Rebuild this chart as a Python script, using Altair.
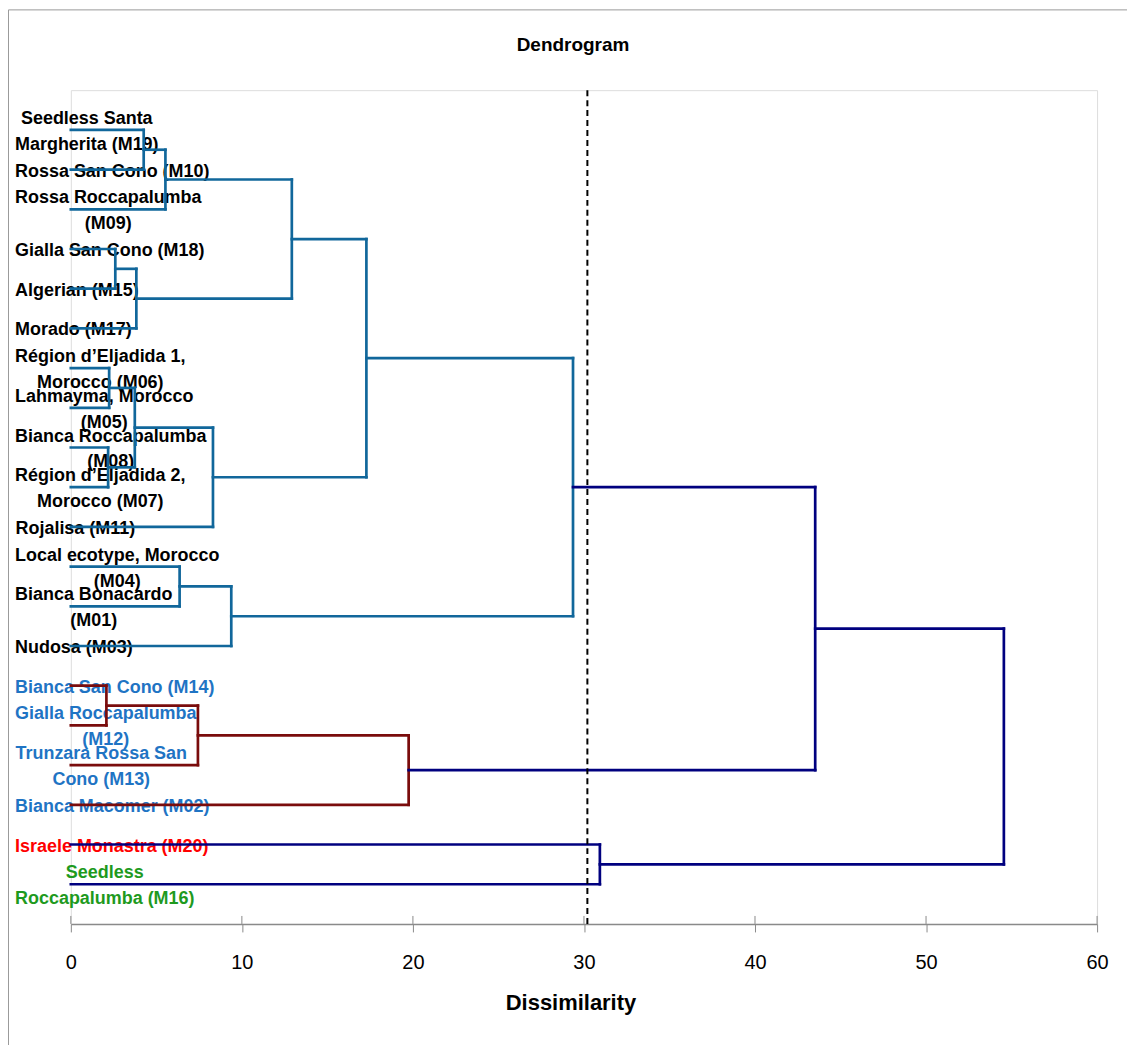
import altair as alt
import pandas as pd

# ---------------- data ----------------
leaf_labels = [
    "Seedless Santa\nMargherita (M19)",
    "Rossa San Cono (M10)",
    "Rossa Roccapalumba\n(M09)",
    "Gialla San Cono (M18)",
    "Algerian (M15)",
    "Morado (M17)",
    "Région d’Eljadida 1,\nMorocco (M06)",
    "Lahmayma, Morocco\n(M05)",
    "Bianca Roccapalumba\n(M08)",
    "Région d’Eljadida 2,\nMorocco (M07)",
    "Rojalisa (M11)",
    "Local ecotype, Morocco\n(M04)",
    "Bianca Bonacardo\n(M01)",
    "Nudosa (M03)",
    "Bianca San Cono (M14)",
    "Gialla Roccapalumba\n(M12)",
    "Trunzara Rossa San\nCono (M13)",
    "Bianca Macomer (M02)",
    "Israele Monastra (M20)",
    "Seedless\nRoccapalumba (M16)",
]
leaf_label_colors = ["#000000"] * 14 + ["#1F74C4"] * 4 + ["#FF0000", "#1E9A1E"]
leaf_group = ["A"] * 14 + ["B"] * 4 + ["C"] * 2

# merges: child a, child b, dissimilarity
merge_a = ["L1", "N1", "L4", "N3", "N2", "L7", "L9", "N6", "N8", "N5",
           "L12", "N11", "N10", "L15", "N14", "N15", "N13", "L19", "N17"]
merge_b = ["L2", "L3", "L5", "L6", "N4", "L8", "L10", "N7", "L11", "N9",
           "L13", "L14", "N12", "L16", "L17", "L18", "N16", "L20", "N18"]
merge_h = [4.26, 5.53, 2.60, 3.83, 12.92, 2.24, 2.18, 3.74, 8.31, 17.28,
           6.36, 9.38, 29.36, 2.08, 7.43, 19.75, 43.52, 30.93, 54.55]

cut_level = 30.2
x_ticks = [0, 10, 20, 30, 40, 50, 60]
chart_title = "Dendrogram"
x_title = "Dissimilarity"

# ---------------- styling ----------------
W, H = 1029, 836
X_MAX = 60
N_LEAF = len(leaf_labels)
PX_PER_UNIT = W / X_MAX
PX_PER_LEAF = H / (N_LEAF + 1)
group_colors = {"A": "#11679B", "B": "#7A0C0C", "C": "#00007F"}
above_cut_color = "#00007F"
FONT = "Liberation Sans"
LABEL_SIZE = 18
LINE_H = 26
LABEL_NUDGE_PX = 2

# ---------------- dendrogram segments ----------------
node_x, node_y, node_first = {}, {}, {}
for i in range(N_LEAF):
    node_x[f"L{i+1}"] = 0.0
    node_y[f"L{i+1}"] = float(i + 1)
    node_first[f"L{i+1}"] = i

segs = []
for k, (a, b, h) in enumerate(zip(merge_a, merge_b, merge_h)):
    nid = f"N{k+1}"
    col = above_cut_color if h > cut_level else group_colors[leaf_group[node_first[a]]]
    ya, yb = node_y[a], node_y[b]
    segs.append(dict(x=node_x[a], x2=h, y=ya, y2=ya, c=col, o=k))
    segs.append(dict(x=node_x[b], x2=h, y=yb, y2=yb, c=col, o=k))
    segs.append(dict(x=h, x2=h, y=ya, y2=yb, c=col, o=k))
    node_x[nid] = h
    node_y[nid] = (ya + yb) / 2
    node_first[nid] = node_first[a]
seg_df = pd.DataFrame(segs)

# ---------------- labels (centred blocks starting 56px left of axis) ----------------
AW = {' ': 278, ',': 278, '(': 333, ')': 333, '’': 278, "'": 238, '.': 278,
      'A': 722, 'B': 722, 'C': 722, 'D': 722, 'E': 667, 'F': 611, 'G': 778, 'H': 722,
      'I': 278, 'J': 556, 'K': 722, 'L': 611, 'M': 833, 'N': 722, 'O': 778, 'P': 667,
      'Q': 778, 'R': 722, 'S': 667, 'T': 611, 'U': 722, 'V': 667, 'W': 944, 'X': 667,
      'Y': 667, 'Z': 611, 'a': 556, 'b': 611, 'c': 556, 'd': 611, 'e': 556, 'f': 333,
      'g': 611, 'h': 611, 'i': 278, 'j': 278, 'k': 556, 'l': 278, 'm': 889, 'n': 611,
      'o': 611, 'p': 611, 'q': 611, 'r': 389, 's': 556, 't': 333, 'u': 611, 'v': 556,
      'w': 778, 'x': 556, 'y': 556, 'z': 500, 'é': 556}


def text_w(s):
    return sum(AW.get(ch, 556 if ch.isdigit() else 600) for ch in s) * LABEL_SIZE / 1000


LEFT_PX = -56
lab_rows = []
for i, (lab, col) in enumerate(zip(leaf_labels, leaf_label_colors)):
    lines = lab.split("\n")
    wmax = max(text_w(line) for line in lines)
    cx_units = (LEFT_PX + wmax / 2) / PX_PER_UNIT
    ty = (i + 1) + (LABEL_NUDGE_PX - (len(lines) - 1) * LINE_H / 2) / PX_PER_LEAF
    lab_rows.append(dict(label=lab, pos=ty, cx=cx_units, c=col))
lab_df = pd.DataFrame(lab_rows)

# ---------------- chart ----------------
xscale = alt.Scale(domain=[0, X_MAX], nice=False, zero=False)
yscale = alt.Scale(domain=[0, N_LEAF + 1], reverse=True, nice=False, zero=False)

x_axis = alt.Axis(values=x_ticks, grid=False, title=x_title,
                  labelFont=FONT, labelFontSize=20, labelColor="#000000",
                  labelPadding=21, labelBaseline="top", labelFlush=False,
                  domainColor="#8a8a8a", domainWidth=1.5,
                  tickColor="#8a8a8a", tickSize=8, tickWidth=1,
                  titleFont=FONT, titleFontSize=22, titleFontWeight="bold",
                  titleColor="#000000", titleX=501, titleY=86,
                  titleBaseline="alphabetic", titleAlign="center")

frame = alt.Chart(pd.DataFrame({"k": [0]})).mark_rect(
    fillOpacity=0, stroke="#9a9a9a", strokeWidth=1
).encode(
    x=alt.value(-62.5), x2=alt.value(W + 200),
    y=alt.value(-80.5), y2=alt.value(H + 300),
)

title_mark = alt.Chart(pd.DataFrame({"t": [chart_title]})).mark_text(
    font=FONT, fontSize=19, fontWeight="bold", color="#000000",
    align="center", baseline="alphabetic",
).encode(
    text="t:N", x=alt.value(W / 2 - 11), y=alt.value(-39),
)

labels = alt.Chart(lab_df).mark_text(
    font=FONT, fontSize=LABEL_SIZE, fontWeight="bold",
    align="center", baseline="middle", lineBreak="\n", lineHeight=LINE_H,
).encode(
    x=alt.X("cx:Q", scale=xscale, axis=x_axis),
    y=alt.Y("pos:Q", scale=yscale, axis=None),
    text="label:N",
    color=alt.Color("c:N", scale=None),
)

links = alt.Chart(seg_df).mark_rule(strokeWidth=2.7, strokeCap="square").encode(
    x=alt.X("x:Q", scale=xscale, axis=x_axis),
    x2="x2:Q",
    y=alt.Y("y:Q", scale=yscale, axis=None),
    y2="y2:Q",
    color=alt.Color("c:N", scale=None),
    order="o:Q",
)

ticks_up = alt.Chart(pd.DataFrame({"t": x_ticks})).mark_rule(
    color="#8a8a8a", strokeWidth=1
).encode(
    x=alt.X("t:Q", scale=xscale, axis=x_axis),
    y=alt.value(H - 8), y2=alt.value(H),
)

cut = alt.Chart(pd.DataFrame({"cut": [cut_level]})).mark_rule(
    color="#000000", strokeWidth=2, strokeDash=[6, 4]
).encode(
    x=alt.X("cut:Q", scale=xscale, axis=x_axis),
    y=alt.value(0), y2=alt.value(H),
)

chart = alt.layer(frame, title_mark, labels, ticks_up, links, cut).properties(
    width=W, height=H,
    autosize=alt.AutoSizeParams(type="none"),
    padding={"left": 63, "top": 81, "right": 30, "bottom": 120},
).configure_view(stroke="#a6a6a6", strokeWidth=1).configure(background="#ffffff")

chart.save("out.html", embed_options={"renderer": "svg", "actions": False})
